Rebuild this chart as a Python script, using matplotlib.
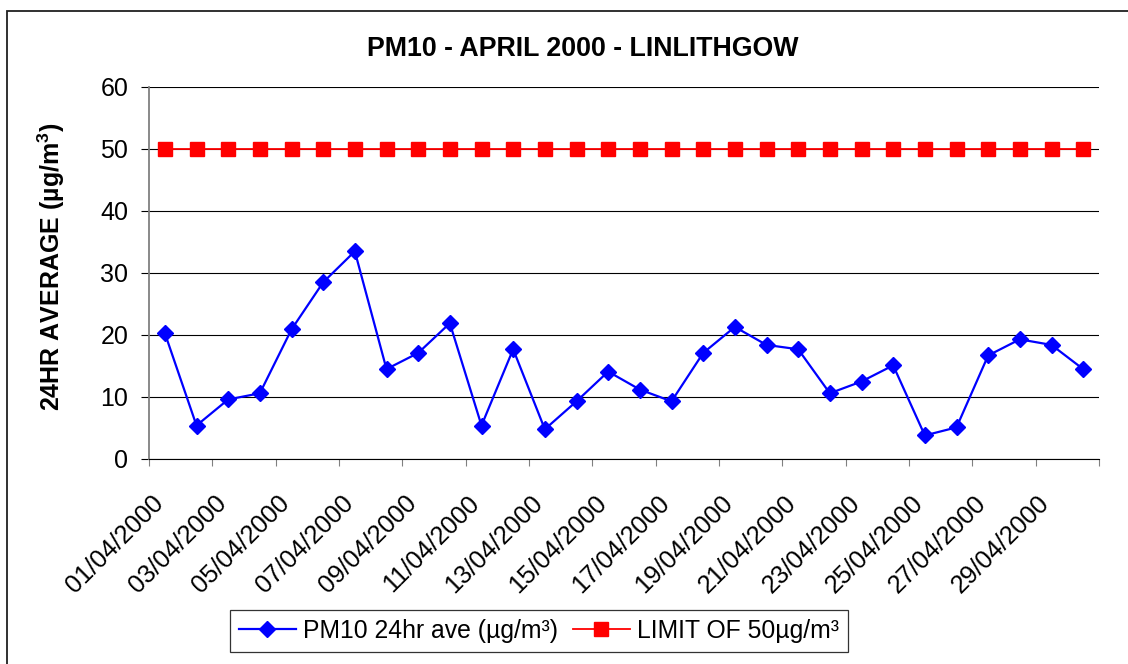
import numpy as np
import matplotlib
matplotlib.use('Agg')
import matplotlib.pyplot as plt
from matplotlib.patches import Rectangle
from matplotlib.transforms import ScaledTranslation

plt.rcParams['font.family'] = ['Liberation Sans', 'DejaVu Sans']
plt.rcParams['mathtext.fontset'] = 'custom'
plt.rcParams['mathtext.rm'] = 'Liberation Sans'
plt.rcParams['mathtext.bf'] = 'Liberation Sans:bold'

# Daily PM10 24hr averages, April 2000.
dates = [
    '01/04/2000', '02/04/2000', '03/04/2000', '04/04/2000', '05/04/2000',
    '06/04/2000', '07/04/2000', '08/04/2000', '09/04/2000', '10/04/2000',
    '11/04/2000', '12/04/2000', '13/04/2000', '14/04/2000', '15/04/2000',
    '16/04/2000', '17/04/2000', '18/04/2000', '19/04/2000', '20/04/2000',
    '21/04/2000', '22/04/2000', '23/04/2000', '24/04/2000', '25/04/2000',
    '26/04/2000', '27/04/2000', '28/04/2000', '29/04/2000', '30/04/2000',
]
pm10 = [20.3, 5.4, 9.6, 10.6, 20.9, 28.5, 33.5, 14.5, 17.1, 21.9,
        5.4, 17.7, 4.8, 9.3, 14.1, 11.2, 9.3, 17.1, 21.3, 18.4,
        17.7, 10.6, 12.5, 15.1, 3.8, 5.1, 16.7, 19.3, 18.4, 14.5]
limit = [50, 50, 50, 50, 50, 50, 50, 50, 50, 50,
         50, 50, 50, 50, 50, 50, 50, 50, 50, 50,
         50, 50, 50, 50, 50, 50, 50, 50, 50, 50]
label_dates = dates[::2]
y_ticks = [0, 10, 20, 30, 40, 50, 60]

W, H = 1128, 664
fig = plt.figure(figsize=(W / 100, H / 100), dpi=100)
ax = fig.add_axes([149 / W, 1 - 459 / H, 950 / W, 372 / H])

# Outer chart border (runs off the right and bottom edges).
fig.patches.append(Rectangle((7 / W, -0.05), 1.2, 1 - 11 / H + 0.05,
                             transform=fig.transFigure, fill=False,
                             edgecolor='#202020', linewidth=1.3))

ax.plot(dates, pm10, color='#0000FF', linewidth=1.6, marker='D',
        markersize=8.5, markerfacecolor='#0000FF', markeredgecolor='#0000FF',
        label='PM10 24hr ave (µg/m³)', zorder=4)
ax.plot(dates, limit, color='#FF0000', linewidth=1.3, marker='s',
        markersize=9.5, markerfacecolor='#FF0000', markeredgecolor='#FF0000',
        label='LIMIT OF 50µg/m³', zorder=3)

ax.set_xlim(-0.5, len(dates) - 0.5)
ax.set_ylim(0, 60)
ax.set_yticks(y_ticks)
ax.yaxis.grid(True, color='black', linewidth=0.8)
ax.set_axisbelow(True)

ax.set_xticks(np.arange(-0.5, len(dates), 2))
ax.set_xticklabels([])
ax.set_xticks(label_dates, minor=True)
ax.set_xticklabels(label_dates, minor=True, rotation=45, ha='right',
                   va='top', rotation_mode='anchor', fontsize=18.3)
ax.tick_params(axis='x', which='major', direction='out', length=5,
               width=0.8, color='#808080')
ax.tick_params(axis='x', which='minor', length=0, pad=23)
for lbl in ax.get_xticklabels(minor=True):
    lbl.set_transform(lbl.get_transform() +
                      ScaledTranslation(-0.14, 0, fig.dpi_scale_trans))
ax.tick_params(axis='y', direction='out', length=6, width=0.8,
               color='black', pad=9, labelsize=18)

for side in ['top', 'right']:
    ax.spines[side].set_visible(False)
ax.spines['left'].set_color('#808080')
ax.spines['left'].set_linewidth(1.3)
ax.spines['bottom'].set_color('black')
ax.spines['bottom'].set_linewidth(0.8)

fig.text(583 / W, 1 - 56 / H, 'PM10 - APRIL 2000 - LINLITHGOW',
         ha='center', va='baseline', fontsize=19.3, fontweight='bold')
fig.text(60 / W, 1 - 267 / H, r'24HR AVERAGE (µg/m$^{\mathbf{3}}$)',
         ha='center', va='baseline', rotation=90, rotation_mode='anchor',
         fontsize=18, fontweight='bold')

leg = fig.legend(loc='center', bbox_to_anchor=(539 / W, 1 - 631 / H),
                 ncol=2, fontsize=17.8, frameon=True, fancybox=False,
                 handlelength=2.3, handletextpad=0.3, columnspacing=0.6,
                 borderpad=0.35, borderaxespad=0)
leg.get_frame().set_edgecolor('black')
leg.get_frame().set_linewidth(0.9)

fig.savefig('out.png', dpi=100, facecolor='white')
